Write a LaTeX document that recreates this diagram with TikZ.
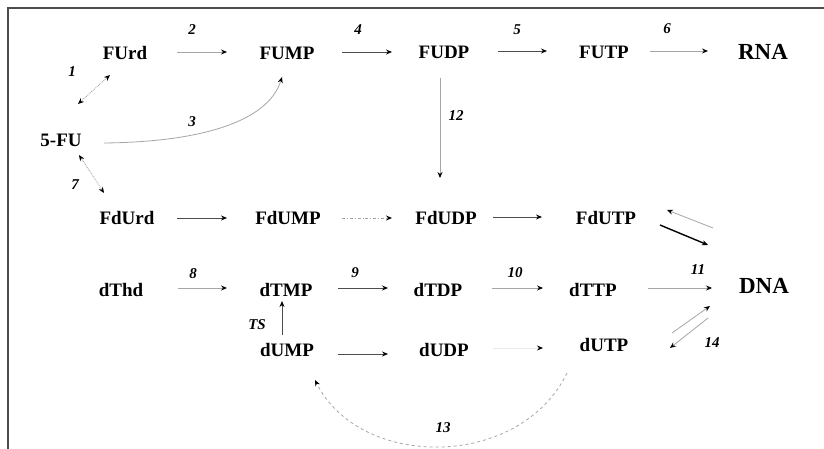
\documentclass[tikz,border=0pt]{standalone}
\usepackage{fontspec}
\setmainfont{Liberation Serif}
\usetikzlibrary{arrows.meta}
\begin{document}
\begin{tikzpicture}[x=1pt,y=-1pt,
  mol/.style={inner sep=0pt,font=\fontsize{19}{19}\selectfont\bfseries},
  big/.style={inner sep=0pt,font=\fontsize{23}{23}\selectfont\bfseries},
  lab/.style={inner sep=0pt,font=\fontsize{15}{15}\selectfont\bfseries\itshape},
  tip/.style={-{Stealth[length=6pt,width=5pt,black]}},
  arr/.style={tip,draw=black!70,line width=0.8pt},
  larr/.style={tip,draw=black!35,line width=0.8pt},
  dbl/.style={{Stealth[length=6pt,width=5pt,black]}-{Stealth[length=6pt,width=5pt,black]},draw=black!40,line width=0.8pt,densely dotted}]
\useasboundingbox (0,0) rectangle (824,449);
\fill[white] (0,0) rectangle (824,449);
\draw[black!70,line width=1.5pt] (8,449) -- (8,8) -- (824,8);
% molecules
\node[mol] (FUrd) at (125,53) {FUrd};
\node[mol] (FUMP) at (287,53) {FUMP};
\node[mol] (FUDP) at (444,52) {FUDP};
\node[mol] (FUTP) at (604,52) {FUTP};
\node[big] (RNA) at (763,52) {RNA};
\node[mol] (FU) at (61,140) {5-FU};
\node[mol] (FdUrd) at (127,218) {FdUrd};
\node[mol] (FdUMP) at (288,218) {FdUMP};
\node[mol] (FdUDP) at (446,218) {FdUDP};
\node[mol] (FdUTP) at (606,218) {FdUTP};
\node[mol] (dThd) at (121,290) {dThd};
\node[mol] (dTMP) at (286,290) {dTMP};
\node[mol] (dTDP) at (438,290) {dTDP};
\node[mol] (dTTP) at (593,290) {dTTP};
\node[big] (DNA) at (764,286) {DNA};
\node[mol] (dUMP) at (287,350) {dUMP};
\node[mol] (dUDP) at (444,350) {dUDP};
\node[mol] (dUTP) at (604,345) {dUTP};
% labels
\node[lab] (l1) at (72,72) {1};
\node[lab] (l2) at (192,30) {2};
\node[lab] (l3) at (192,122) {3};
\node[lab] (l4) at (358,30) {4};
\node[lab] (l5) at (517,30) {5};
\node[lab] (l6) at (667,29) {6};
\node[lab] (l7) at (75,185) {7};
\node[lab] (l8) at (193,274) {8};
\node[lab] (l9) at (355,273) {9};
\node[lab] (l10) at (515,273) {10};
\node[lab] (l11) at (698,270) {11};
\node[lab] (l12) at (456,116) {12};
\node[lab] (l13) at (443,428) {13};
\node[lab] (l14) at (712,343) {14};
\node[lab] (lTS) at (257,325) {TS};
% top row
\draw[larr] ([shift={(52,-1)}]FUrd.center) -- ([shift={(-60,-1)}]FUMP.center);
\draw[arr] ([shift={(55,-1)}]FUMP.center) -- ([shift={(-52,0)}]FUDP.center);
\draw[arr] ([shift={(54,-1)}]FUDP.center) -- ([shift={(-57,-1)}]FUTP.center);
\draw[larr] ([shift={(46,-1)}]FUTP.center) -- ([shift={(-55,-1)}]RNA.center);
% 5-FU
\draw[dbl] ([shift={(17,-36)}]FU.center) -- ([shift={(-15,22)}]FUrd.center);
\draw[dbl] ([shift={(18,15)}]FU.center) -- ([shift={(-23,-25)}]FdUrd.center);
\draw[larr] ([shift={(43,3)}]FU.center) .. controls +(96,-1) and +(-14,45) .. ([shift={(-5,24)}]FUMP.center);
% 12
\draw[larr] ([shift={(-4,26)}]FUDP.center) -- ([shift={(-6,-40)}]FdUDP.center);
% Fd row
\draw[arr] ([shift={(50,0)}]FdUrd.center) -- ([shift={(-61,0)}]FdUMP.center);
\draw[larr,dash dot] ([shift={(54,0)}]FdUMP.center) -- ([shift={(-54,0)}]FdUDP.center);
\draw[arr] ([shift={(47,-1)}]FdUDP.center) -- ([shift={(-64,-1)}]FdUTP.center);
\draw[tip,draw=black,line width=1.4pt] ([shift={(54,7)}]FdUTP.center) -- ([shift={(-56,-41)}]DNA.center);
\draw[larr] ([shift={(-51,-58)}]DNA.center) -- ([shift={(61,-8)}]FdUTP.center);
% dT row
\draw[larr] ([shift={(57,-2)}]dThd.center) -- ([shift={(-59,-2)}]dTMP.center);
\draw[arr] ([shift={(52,-2)}]dTMP.center) -- ([shift={(-50,-2)}]dTDP.center);
\draw[larr] ([shift={(54,-2)}]dTDP.center) -- ([shift={(-50,-2)}]dTTP.center);
\draw[larr] ([shift={(55,-2)}]dTTP.center) -- ([shift={(-52,2)}]DNA.center);
% dU row
\draw[arr] ([shift={(-5,-15)}]dUMP.center) -- ([shift={(-4,11)}]dTMP.center);
\draw[arr] ([shift={(51,4)}]dUMP.center) -- ([shift={(-56,4)}]dUDP.center);
\draw[tip,draw=black!8,line width=0.8pt] ([shift={(49,-2)}]dUDP.center) -- ([shift={(-61,3)}]dUTP.center);
\draw[larr] ([shift={(68,-12)}]dUTP.center) -- ([shift={(-54,20)}]DNA.center);
\draw[larr] ([shift={(-56,32)}]DNA.center) -- ([shift={(66,3)}]dUTP.center);
\draw[larr,dashed] ([shift={(-37,28)}]dUTP.center) .. controls +(-47,97) and +(45,90) .. ([shift={(28,30)}]dUMP.center);
\end{tikzpicture}
\end{document}
